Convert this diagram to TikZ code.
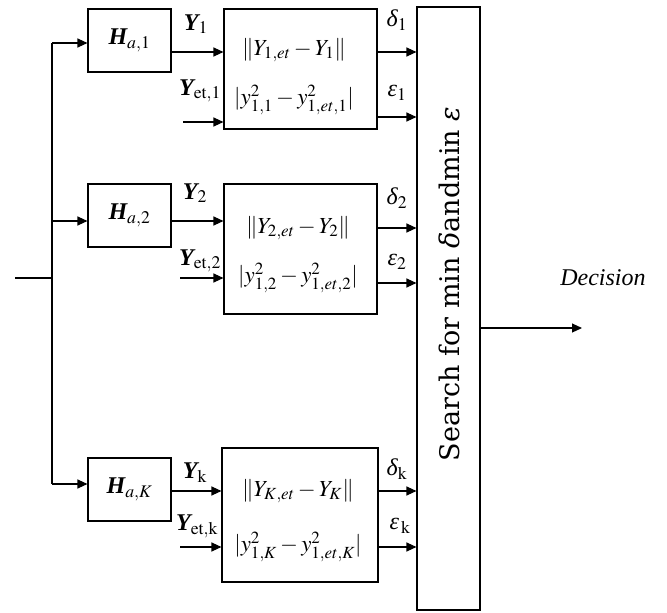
\documentclass[tikz,border=0pt]{standalone}
\usepackage{amsmath}
\usepackage{mathptmx}
\usepackage[no-math]{fontspec}
\setmainfont{Liberation Serif}
\newfontfamily\searchfont{DejaVu Serif}
\usetikzlibrary{arrows.meta}
\newcommand{\bY}{{\bfseries\itshape Y}}
\newcommand{\bH}{{\bfseries\itshape H}}
\newcommand{\grd}{{\itshape δ}}
\newcommand{\gre}{{\itshape ε}}
\begin{document}
\begin{tikzpicture}[x=1pt,y=-1pt,line width=1.1pt,
  arr/.style={-{Triangle[length=10pt,width=9pt]}},
  blk/.style={draw,line width=1.1pt,inner sep=0pt},
  lbl/.style={inner sep=0pt,font=\fontsize{24}{26}\selectfont},
  eq/.style={inner sep=0pt,font=\fontsize{23}{25}\selectfont},
  big/.style={inner sep=0pt,font=\fontsize{27}{30}\searchfont}]
\useasboundingbox (0,0) rectangle (667,613);
% blocks
\node[blk,minimum width=83pt,minimum height=63pt] (H1) at (129.5,40.5) {};
\node[blk,minimum width=83pt,minimum height=63pt] (H2) at (129.5,215.5) {};
\node[blk,minimum width=83pt,minimum height=63pt] (HK) at (129.5,489.5) {};
\node[blk,minimum width=153pt,minimum height=120pt] (B1) at (300.5,69) {};
\node[blk,minimum width=153pt,minimum height=130pt] (B2) at (300.5,249) {};
\node[blk,minimum width=156pt,minimum height=134pt] (BK) at (300,515) {};
\node[blk,minimum width=63pt,minimum height=603pt] (S) at (448.5,308.5) {};
% block texts
\node[lbl] (tH1) at (H1) {\bH$_{a,1}$};
\node[lbl] (tH2) at (H2) {\bH$_{a,2}$};
\node[lbl] (tHK) at (HK) {\bH$_{a,K}$};
\node[eq] (t11) at (294,50) {$\|Y_{1,et}-Y_{1}\|$};
\node[eq] (t12) at (294,100) {$|y_{1,1}^{2}-y_{1,et,1}^{2}|$};
\node[eq] (t21) at (298,228) {$\|Y_{2,et}-Y_{2}\|$};
\node[eq] (t22) at (298,278) {$|y_{1,2}^{2}-y_{1,et,2}^{2}|$};
\node[eq] (tK1) at (298,491) {$\|Y_{K,et}-Y_{K}\|$};
\node[eq] (tK2) at (298,547) {$|y_{1,K}^{2}-y_{1,et,K}^{2}|$};
\node[big,rotate=90] (tS) at (449,284) {Search for min {\itshape δ}andmin {\itshape ε}};
% input bus
\coordinate (in) at (15,278);
\coordinate (j) at (52,278);
\coordinate (v1) at (52,43);
\coordinate (v2) at (52,221);
\coordinate (vK) at (52,484);
\draw (in) -- (j);
\draw (v1) -- (vK);
\draw[arr] (v1) -- (H1.west |- v1);
\draw[arr] (v2) -- (H2.west |- v2);
\draw[arr] (vK) -- (HK.west |- vK);
% row 1
\coordinate (e1) at (183,122);
\draw[arr] (H1.east |- 0,52) -- (B1.west |- 0,52);
\draw[arr] (e1) -- (B1.west |- e1);
\draw[arr] (B1.east |- 0,52) -- (S.west |- 0,52);
\draw[arr] (B1.east |- 0,117) -- (S.west |- 0,117);
\node[lbl] (lY1) at (196,24) {\bY$_{1}$};
\node[lbl] (lE1) at (200,91) {\bY$_{\mathrm{et},1}$};
\node[lbl] (ld1) at (397,20) {\grd$_{1}$};
\node[lbl] (le1) at (397,93) {\gre$_{1}$};
% row 2
\coordinate (e2) at (180,278);
\draw[arr] (H2.east |- 0,221) -- (B2.west |- 0,221);
\draw[arr] (e2) -- (B2.west |- e2);
\draw[arr] (B2.east |- 0,228) -- (S.west |- 0,228);
\draw[arr] (B2.east |- 0,283) -- (S.west |- 0,283);
\node[lbl] (lY2) at (195,193) {\bY$_{2}$};
\node[lbl] (lE2) at (200,261) {\bY$_{\mathrm{et},2}$};
\node[lbl] (ld2) at (397,198) {\grd$_{2}$};
\node[lbl] (le2) at (397,262) {\gre$_{2}$};
% row K
\coordinate (eK) at (180,547);
\draw[arr] (HK.east |- 0,491) -- (BK.west |- 0,491);
\draw[arr] (eK) -- (BK.west |- eK);
\draw[arr] (BK.east |- 0,491) -- (S.west |- 0,491);
\draw[arr] (BK.east |- 0,547) -- (S.west |- 0,547);
\node[lbl] (lYK) at (195,473) {\bY$_{\mathrm{k}}$};
\node[lbl] (lEK) at (197,526) {\bY$_{\mathrm{et},\mathrm{k}}$};
\node[lbl] (ldK) at (397,469) {\grd$_{\mathrm{k}}$};
\node[lbl] (leK) at (400,526) {\gre$_{\,\mathrm{k}}$};
% output
\coordinate (out) at (582,328);
\draw[arr] (S.east |- out) -- (out);
\node[inner sep=0pt,font=\fontsize{24}{26}\selectfont\itshape] (dec) at (603,278) {Decision};
\end{tikzpicture}
\end{document}
